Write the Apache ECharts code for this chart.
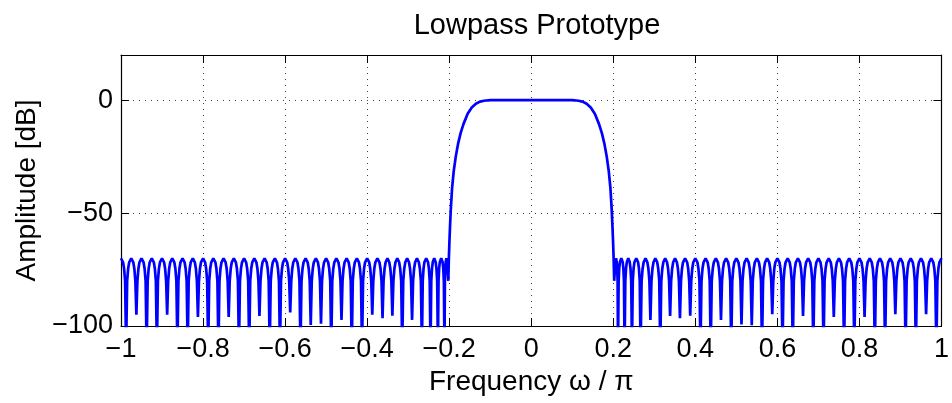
<!DOCTYPE html>
<html>
<head>
<meta charset="utf-8">
<script src="https://cdn.jsdelivr.net/npm/echarts@6/dist/echarts.min.js"></script>
<style>
html,body{margin:0;padding:0;background:#fff;}
#chart{width:952px;height:403px;}
</style>
</head>
<body>
<div id="chart"></div>
<script>
// ---- Data (frequency ω/π, amplitude dB) ----
const titleText = 'Lowpass Prototype';
const xName = 'Frequency \u03c9 / \u03c0';
const yName = 'Amplitude [dB]';
const xTicks = [-1, -0.8, -0.6, -0.4, -0.2, 0, 0.2, 0.4, 0.6, 0.8, 1];
const yTicks = [-100, -50, 0];

const stopbandLeft = [
[-1,-70],[-0.995,-71.8],[-0.9925,-74.5],[-0.99,-80],
[-0.9875,-110],[-0.985,-80],[-0.9825,-74.5],[-0.98,-71.8],[-0.975,-70],[-0.97,-71.8],[-0.9675,-74.5],[-0.965,-80],
[-0.9625,-95],[-0.96,-80],[-0.9575,-74.5],[-0.955,-71.8],[-0.95,-70],[-0.945,-71.8],[-0.9425,-74.5],[-0.94,-80],
[-0.9375,-110],[-0.935,-80],[-0.9325,-74.5],[-0.93,-71.8],[-0.925,-70],[-0.92,-71.8],[-0.9175,-74.5],[-0.915,-80],
[-0.9125,-110],[-0.91,-80],[-0.9075,-74.5],[-0.905,-71.8],[-0.9,-70],[-0.895,-71.8],[-0.8925,-74.5],[-0.89,-80],
[-0.8875,-95],[-0.885,-80],[-0.8825,-74.5],[-0.88,-71.8],[-0.875,-70],[-0.87,-71.8],[-0.8675,-74.5],[-0.865,-80],
[-0.8625,-110],[-0.86,-80],[-0.8575,-74.5],[-0.855,-71.8],[-0.85,-70],[-0.845,-71.8],[-0.8425,-74.5],[-0.84,-80],
[-0.8375,-110],[-0.835,-80],[-0.8325,-74.5],[-0.83,-71.8],[-0.825,-70],[-0.82,-71.8],[-0.8175,-74.5],[-0.815,-80],
[-0.8125,-96],[-0.81,-80],[-0.8075,-74.5],[-0.805,-71.8],[-0.8,-70],[-0.795,-71.8],[-0.7925,-74.5],[-0.79,-80],
[-0.7875,-110],[-0.785,-80],[-0.7825,-74.5],[-0.78,-71.8],[-0.775,-70],[-0.77,-71.8],[-0.7675,-74.5],[-0.765,-80],
[-0.7625,-110],[-0.76,-80],[-0.7575,-74.5],[-0.755,-71.8],[-0.75,-70],[-0.745,-71.8],[-0.7425,-74.5],[-0.74,-80],
[-0.7375,-96],[-0.735,-80],[-0.7325,-74.5],[-0.73,-71.8],[-0.725,-70],[-0.72,-71.8],[-0.7175,-74.5],[-0.715,-80],
[-0.7125,-110],[-0.71,-80],[-0.7075,-74.5],[-0.705,-71.8],[-0.7,-70],[-0.695,-71.8],[-0.6925,-74.5],[-0.69,-80],
[-0.6875,-110],[-0.685,-80],[-0.6825,-74.5],[-0.68,-71.8],[-0.675,-70],[-0.67,-71.8],[-0.6675,-74.5],[-0.665,-80],
[-0.6625,-95.5],[-0.66,-80],[-0.6575,-74.5],[-0.655,-71.8],[-0.65,-70],[-0.645,-71.8],[-0.6425,-74.5],[-0.64,-80],
[-0.6375,-110],[-0.635,-80],[-0.6325,-74.5],[-0.63,-71.8],[-0.625,-70],[-0.62,-71.8],[-0.6175,-74.5],[-0.615,-80],
[-0.6125,-110],[-0.61,-80],[-0.6075,-74.5],[-0.605,-71.8],[-0.6,-70],[-0.595,-71.8],[-0.5925,-74.5],[-0.59,-80],
[-0.5875,-94],[-0.585,-80],[-0.5825,-74.5],[-0.58,-71.8],[-0.575,-70],[-0.57,-71.8],[-0.5675,-74.5],[-0.565,-80],
[-0.5625,-110],[-0.56,-80],[-0.5575,-74.5],[-0.555,-71.8],[-0.55,-70],[-0.545,-71.8],[-0.5425,-74.5],[-0.54,-80],
[-0.5375,-99.5],[-0.535,-80],[-0.5325,-74.5],[-0.53,-71.8],[-0.525,-70],[-0.52,-71.8],[-0.5175,-74.5],[-0.515,-80],
[-0.5125,-99],[-0.51,-80],[-0.5075,-74.5],[-0.505,-71.8],[-0.5,-70],[-0.495,-71.8],[-0.4925,-74.5],[-0.49,-80],
[-0.4875,-110],[-0.485,-80],[-0.4825,-74.5],[-0.48,-71.8],[-0.475,-70],[-0.47,-71.8],[-0.4675,-74.5],[-0.465,-80],
[-0.4625,-97.3],[-0.46,-80],[-0.4575,-74.5],[-0.455,-71.8],[-0.45,-70],[-0.445,-71.8],[-0.4425,-74.5],[-0.44,-80],
[-0.4375,-110],[-0.435,-80],[-0.4325,-74.5],[-0.43,-71.8],[-0.425,-70],[-0.42,-71.8],[-0.4175,-74.5],[-0.415,-80],
[-0.4125,-110],[-0.41,-80],[-0.4075,-74.5],[-0.405,-71.8],[-0.4,-70],[-0.395,-71.8],[-0.3925,-74.5],[-0.39,-80],
[-0.3875,-95],[-0.385,-80],[-0.3825,-74.5],[-0.38,-71.8],[-0.375,-70],[-0.37,-71.8],[-0.3675,-74.5],[-0.365,-80],
[-0.3625,-96.5],[-0.36,-80],[-0.3575,-74.5],[-0.355,-71.8],[-0.3505,-70],[-0.346,-71.8],[-0.3435,-74.5],[-0.341,-80],
[-0.3385,-95.4],[-0.336,-80],[-0.3335,-74.5],[-0.331,-71.8],[-0.3265,-70],[-0.322,-71.8],[-0.3195,-74.5],[-0.317,-80],
[-0.3145,-110],[-0.312,-80],[-0.3095,-74.5],[-0.307,-71.8],[-0.3025,-70],[-0.298,-71.8],[-0.2955,-74.5],[-0.293,-80],
[-0.2905,-97.3],[-0.288,-80],[-0.2855,-74.5],[-0.283,-71.8],[-0.2785,-70],[-0.274,-71.8],[-0.2715,-74.5],[-0.269,-80],
[-0.2665,-110],[-0.2645,-80],[-0.2625,-74.5],[-0.2605,-71.8],[-0.256,-70],[-0.2515,-71.8],[-0.2495,-74.5],[-0.2475,-80],
[-0.2455,-110],[-0.2437,-80],[-0.2419,-74.5],[-0.2401,-71.8],[-0.2365,-70],[-0.2329,-71.8],[-0.2311,-74.5],[-0.2293,-80],
[-0.2275,-110],[-0.226,-80],[-0.2245,-74.5],[-0.223,-71.8],[-0.2195,-70],[-0.216,-71.8],[-0.2145,-74.5],[-0.213,-80],
[-0.2115,-110],[-0.2105,-80],[-0.2095,-74.5],[-0.2085,-71.8],[-0.2068,-70],[-0.205,-72],[-0.2035,-76]
];

const passband = [
[-0.2022,-80],[-0.2008,-70],[-0.1995,-63],[-0.198,-56],[-0.196,-48],[-0.193,-39],[-0.189,-31.5],[-0.184,-25],
[-0.178,-19],[-0.172,-14.5],[-0.165,-10.5],[-0.155,-6],[-0.145,-3.2],[-0.135,-1.6],[-0.125,-0.65],[-0.115,-0.25],
[-0.105,-0.05],[-0.1,0],[-0.05,0],[0,0],[0.05,0],[0.1,0],[0.105,-0.05],[0.115,-0.25],[0.125,-0.65],[0.135,-1.6],
[0.145,-3.2],[0.155,-6],[0.165,-10.5],[0.172,-14.5],[0.178,-19],[0.184,-25],[0.189,-31.5],[0.193,-39],[0.196,-48],
[0.198,-56],[0.1995,-63],[0.2008,-70],[0.2022,-80]
];

const stopbandRight = [
[0.2035,-76],[0.205,-72],[0.2068,-70],[0.2085,-71.8],[0.2095,-74.5],[0.2105,-80],
[0.2115,-110],[0.213,-80],[0.2145,-74.5],[0.216,-71.8],[0.2195,-70],[0.223,-71.8],[0.2245,-74.5],[0.226,-80],
[0.2275,-110],[0.2293,-80],[0.2311,-74.5],[0.2329,-71.8],[0.2365,-70],[0.2401,-71.8],[0.2419,-74.5],[0.2437,-80],
[0.2455,-110],[0.2475,-80],[0.2495,-74.5],[0.2515,-71.8],[0.256,-70],[0.2605,-71.8],[0.2625,-74.5],[0.2645,-80],
[0.2665,-110],[0.269,-80],[0.2715,-74.5],[0.274,-71.8],[0.2785,-70],[0.283,-71.8],[0.2855,-74.5],[0.288,-80],
[0.2905,-97.3],[0.293,-80],[0.2955,-74.5],[0.298,-71.8],[0.3025,-70],[0.307,-71.8],[0.3095,-74.5],[0.312,-80],
[0.3145,-110],[0.317,-80],[0.3195,-74.5],[0.322,-71.8],[0.3265,-70],[0.331,-71.8],[0.3335,-74.5],[0.336,-80],
[0.3385,-95.5],[0.341,-80],[0.3435,-74.5],[0.346,-71.8],[0.3505,-70],[0.355,-71.8],[0.3575,-74.5],[0.36,-80],
[0.3625,-96.6],[0.365,-80],[0.3675,-74.5],[0.37,-71.8],[0.375,-70],[0.38,-71.8],[0.3825,-74.5],[0.385,-80],
[0.3875,-95.4],[0.39,-80],[0.3925,-74.5],[0.395,-71.8],[0.4,-70],[0.405,-71.8],[0.4075,-74.5],[0.41,-80],
[0.4125,-110],[0.415,-80],[0.4175,-74.5],[0.42,-71.8],[0.425,-70],[0.43,-71.8],[0.4325,-74.5],[0.435,-80],
[0.4375,-110],[0.44,-80],[0.4425,-74.5],[0.445,-71.8],[0.45,-70],[0.455,-71.8],[0.4575,-74.5],[0.46,-80],
[0.4625,-97.3],[0.465,-80],[0.4675,-74.5],[0.47,-71.8],[0.475,-70],[0.48,-71.8],[0.4825,-74.5],[0.485,-80],
[0.4875,-110],[0.49,-80],[0.4925,-74.5],[0.495,-71.8],[0.5,-70],[0.505,-71.8],[0.5075,-74.5],[0.51,-80],
[0.5125,-99.3],[0.515,-80],[0.5175,-74.5],[0.52,-71.8],[0.525,-70],[0.53,-71.8],[0.5325,-74.5],[0.535,-80],
[0.5375,-99.6],[0.54,-80],[0.5425,-74.5],[0.545,-71.8],[0.55,-70],[0.555,-71.8],[0.5575,-74.5],[0.56,-80],
[0.5625,-110],[0.565,-80],[0.5675,-74.5],[0.57,-71.8],[0.575,-70],[0.58,-71.8],[0.5825,-74.5],[0.585,-80],
[0.5875,-94.8],[0.59,-80],[0.5925,-74.5],[0.595,-71.8],[0.6,-70],[0.605,-71.8],[0.6075,-74.5],[0.61,-80],
[0.6125,-110],[0.615,-80],[0.6175,-74.5],[0.62,-71.8],[0.625,-70],[0.63,-71.8],[0.6325,-74.5],[0.635,-80],
[0.6375,-110],[0.64,-80],[0.6425,-74.5],[0.645,-71.8],[0.65,-70],[0.655,-71.8],[0.6575,-74.5],[0.66,-80],
[0.6625,-95.5],[0.665,-80],[0.6675,-74.5],[0.67,-71.8],[0.675,-70],[0.68,-71.8],[0.6825,-74.5],[0.685,-80],
[0.6875,-110],[0.69,-80],[0.6925,-74.5],[0.695,-71.8],[0.7,-70],[0.705,-71.8],[0.7075,-74.5],[0.71,-80],
[0.7125,-110],[0.715,-80],[0.7175,-74.5],[0.72,-71.8],[0.725,-70],[0.73,-71.8],[0.7325,-74.5],[0.735,-80],
[0.7375,-96],[0.74,-80],[0.7425,-74.5],[0.745,-71.8],[0.75,-70],[0.755,-71.8],[0.7575,-74.5],[0.76,-80],
[0.7625,-110],[0.765,-80],[0.7675,-74.5],[0.77,-71.8],[0.775,-70],[0.78,-71.8],[0.7825,-74.5],[0.785,-80],
[0.7875,-110],[0.79,-80],[0.7925,-74.5],[0.795,-71.8],[0.8,-70],[0.805,-71.8],[0.8075,-74.5],[0.81,-80],
[0.8125,-96],[0.815,-80],[0.8175,-74.5],[0.82,-71.8],[0.825,-70],[0.83,-71.8],[0.8325,-74.5],[0.835,-80],
[0.8375,-110],[0.84,-80],[0.8425,-74.5],[0.845,-71.8],[0.85,-70],[0.855,-71.8],[0.8575,-74.5],[0.86,-80],
[0.8625,-110],[0.865,-80],[0.8675,-74.5],[0.87,-71.8],[0.875,-70],[0.88,-71.8],[0.8825,-74.5],[0.885,-80],
[0.8875,-94.8],[0.89,-80],[0.8925,-74.5],[0.895,-71.8],[0.9,-70],[0.905,-71.8],[0.9075,-74.5],[0.91,-80],
[0.9125,-110],[0.915,-80],[0.9175,-74.5],[0.92,-71.8],[0.925,-70],[0.93,-71.8],[0.9325,-74.5],[0.935,-80],
[0.9375,-110],[0.94,-80],[0.9425,-74.5],[0.945,-71.8],[0.95,-70],[0.955,-71.8],[0.9575,-74.5],[0.96,-80],
[0.9625,-94.8],[0.965,-80],[0.9675,-74.5],[0.97,-71.8],[0.975,-70],[0.98,-71.8],[0.9825,-74.5],[0.985,-80],
[0.9875,-110],[0.99,-80],[0.9925,-74.5],[0.995,-71.8],[1,-70]
];

// ---- Chart ----
const FONT = '"Liberation Sans", Arial, Helvetica, sans-serif';
const fmt = v => {
  const r = Math.round(v * 10) / 10;
  const s = String(Math.abs(r));
  return (r < 0 ? '\u2212' : '') + s;
};
const chart = echarts.init(document.getElementById('chart'), null, {renderer: 'canvas'});
const gridLine = {show: true, lineStyle: {color: '#000', opacity: 0.75, width: 1, type: [1, 5]}};
const axisLine = {show: true, onZero: false, lineStyle: {color: '#000', width: 1.2}};
const tick = {show: true, inside: true, length: 8, lineStyle: {color: '#000', width: 1}};

chart.setOption({
  animation: false,
  backgroundColor: '#fff',
  title: {
    text: titleText, left: 532, top: 6, textAlign: 'center',
    textStyle: {fontFamily: FONT, fontSize: 29, fontWeight: 'normal', color: '#000'}
  },
  grid: {left: 121, right: 10, top: 55, bottom: 77, containLabel: false},
  xAxis: [{
    type: 'value', min: -1, max: 1, interval: 0.2, position: 'bottom',
    axisLine: axisLine, axisTick: tick, splitLine: gridLine,
    axisLabel: {formatter: fmt, margin: 10, color: '#000', fontFamily: FONT, fontSize: 27},
    name: xName, nameLocation: 'middle', nameGap: 39,
    nameTextStyle: {fontFamily: FONT, fontSize: 28, color: '#000'}
  }, {
    type: 'value', min: -1, max: 1, interval: 0.2, position: 'top',
    axisLine: axisLine, axisTick: tick, splitLine: {show: false}, axisLabel: {show: false}
  }],
  yAxis: [{
    type: 'value', min: -100, max: 20, interval: 50, position: 'left',
    axisLine: axisLine, axisTick: tick, splitLine: gridLine,
    axisLabel: {
      formatter: v => (yTicks.indexOf(v) >= 0 ? fmt(v) : ''),
      margin: 8, color: '#000', fontFamily: FONT, fontSize: 27
    },
    name: yName, nameLocation: 'middle', nameGap: 77, nameRotate: 90,
    nameTextStyle: {fontFamily: FONT, fontSize: 28, color: '#000'}
  }, {
    type: 'value', min: -100, max: 20, interval: 50, position: 'right',
    axisLine: axisLine, axisTick: tick, splitLine: {show: false}, axisLabel: {show: false}
  }],
  series: [{
    type: 'line',
    data: stopbandLeft.concat(passband, stopbandRight),
    showSymbol: false, clip: true,
    lineStyle: {color: '#0000ff', width: 2.7},
    xAxisIndex: 0, yAxisIndex: 0
  }]
});
</script>
</body>
</html>
